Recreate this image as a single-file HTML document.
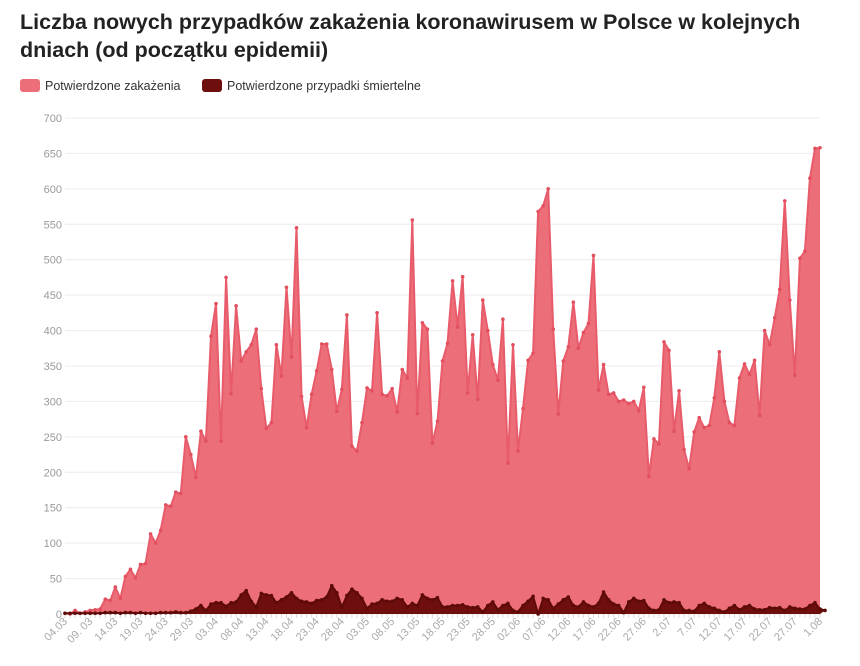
<!DOCTYPE html>
<html><head><meta charset="utf-8"><style>
body{margin:0;background:#fff;font-family:"Liberation Sans",sans-serif;}
#t{position:absolute;left:20px;top:8px;font-size:21.5px;font-weight:bold;color:#222;line-height:28px;width:820px;}
</style></head><body>
<div id="t">Liczba nowych przypadków zakażenia koronawirusem w Polsce w kolejnych dniach (od początku epidemii)</div>
<svg id="s" width="860" height="666" style="position:absolute;left:0;top:0"></svg>
<script>
var c=[1,0,5,1,3,5,6,7,21,19,38,22,53,63,51,70,71,113,100,118,154,152,172,170,250,225,193,258,244,392,438,244,475,311,435,357,370,380,402,318,262,270,380,336,461,363,545,307,263,310,343,381,381,345,286,317,422,237,230,270,319,315,425,310,308,318,285,345,333,556,283,411,402,241,272,357,382,470,405,476,312,394,303,443,400,352,330,416,213,380,230,290,358,368,568,576,600,402,282,357,377,440,375,397,410,506,316,352,310,312,300,302,297,300,287,320,194,247,240,384,372,258,315,232,205,257,277,263,266,305,370,300,270,266,333,353,338,358,280,400,380,418,458,583,443,337,502,512,615,657,658];
var dd=[1,1,1,1,1,1,1,1,2,2,2,1,2,2,1,2,1,1,1,2,2,2,3,2,2,4,7,12,5,14,16,16,11,16,17,27,33,18,10,29,27,26,16,20,24,30,22,18,17,15,19,20,24,40,30,10,26,35,30,22,8,14,15,20,18,18,22,20,10,15,12,27,22,20,23,10,10,12,12,13,10,9,10,3,12,17,6,12,15,5,3,12,18,25,0,22,20,8,14,20,24,12,10,17,12,10,15,31,20,14,12,2,17,22,18,19,8,5,6,20,16,17,16,5,5,4,12,15,10,8,5,3,8,12,6,10,12,7,6,6,9,8,9,5,10,8,7,7,12,16,7,5];
var X=function(d){return 65+d*755/150},Y=function(v){return 614-v*496/700};
var h='';
for(var v=0;v<=700;v+=50){h+='<line x1="65" x2="820" y1="'+Y(v)+'" y2="'+Y(v)+'" stroke="#ececec"/>';
h+='<text x="62" y="'+(Y(v)+4)+'" text-anchor="end" font-size="11" fill="#999">'+v+'</text>';}
var labs=["04.03","09. 03","14.03","19.03","24.03","29.03","03.04","08.04","13.04","18.04","23.04","28.04","03.05","08.05","13.05","18.05","23.05","28.05","02.06","07.06","12.06","17.06","22.06","27.06","2.07","7.07","12.07","17.07","22.07","27.07","1.08"];
for(var d=0;d<=150;d++){h+='<line x1="'+X(d)+'" x2="'+X(d)+'" y1="614" y2="618" stroke="#ddd"/>';}
labs.forEach(function(l,i){var x=X(i*5)+3,y=622;h+='<text transform="translate('+x+','+y+') rotate(-45)" text-anchor="end" font-size="11" fill="#aaa">'+l+'</text>';});
function area(a,fill,stroke){var p='M'+X(0)+',614';a.forEach(function(v,i){p+=' L'+X(i).toFixed(1)+','+Y(v).toFixed(1)});p+=' L'+X(150)+',614Z';
var q='';a.forEach(function(v,i){q+=(i?' L':'M')+X(i).toFixed(1)+','+Y(v).toFixed(1)});
return '<path d="'+p+'" fill="'+fill+'"/><path d="'+q+'" fill="none" stroke="'+stroke+'" stroke-width="2" stroke-linejoin="round"/>';}
h+=area(c,'#ec6e78','#e85b6a');
c.forEach(function(v,i){h+='<circle cx="'+X(i)+'" cy="'+Y(v)+'" r="1.8" fill="#e2505f"/>'});
h+=area(dd,'#6e0f0d','#5e0a08');
dd.forEach(function(v,i){h+='<circle cx="'+X(i)+'" cy="'+Y(v)+'" r="1.8" fill="#5e0a08"/>'});
h+='<rect x="20" y="79" width="20" height="13" rx="3" fill="#ec6e78"/><text x="45" y="90" font-size="12.5" fill="#333">Potwierdzone zakażenia</text>';
h+='<rect x="202" y="79" width="20" height="13" rx="3" fill="#6e0f0d"/><text x="227" y="90" font-size="12.5" fill="#333">Potwierdzone przypadki śmiertelne</text>';
document.getElementById('s').innerHTML=h;
</script>
</body></html>
